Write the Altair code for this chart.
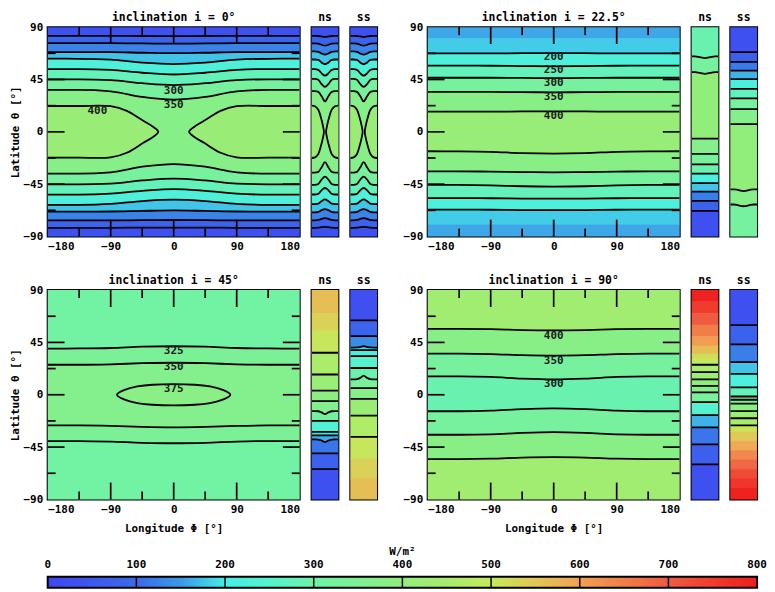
import altair as alt
import pandas as pd

FONT = "DejaVu Sans Mono"

# ---------------- colour scale (W/m^2) ----------------
cb_stops = [0, 100, 150, 200, 250, 300, 400, 450, 500, 550, 600, 700, 800]
cb_colors = ["#4046f2", "#3a6cea", "#3b9ae8", "#46eee6", "#55f2cc", "#6ef2a8",
             "#90ee7c", "#a8ec6c", "#c4ea5c", "#e2c656", "#f2a052", "#f05a40", "#f01c1c"]
cb_ticks = [0, 100, 200, 300, 400, 500, 600, 700, 800]
cb_lines = [100, 200, 300, 400, 500, 600, 700]

# ---------------- axes ----------------
lon_labels = [-180, -90, 0, 90, 180]
lat_labels = [-90, -45, 0, 45, 90]
lon_major = [-90, 0, 90]
lon_minor = [-135, -45, 45, 135]
lat_major = [-45, 0, 45]
lat_minor = [-67.5, -22.5, 22.5, 67.5]

lon_half = [0, 45, 90, 135, 180]          # sample longitudes (mirrored)
strip_half = [0, 0.25, 0.5, 0.75, 1]      # sample positions across a strip

# ---------------- inclination 0 ----------------
p1_main_lines = [
    [82.3, 82.4, 82.5, 82.5, 82.5], [75.8, 76.0, 76.2, 76.2, 76.2],
    [67.6, 68.0, 68.5, 68.6, 68.6], [58.3, 59.5, 62.0, 62.8, 62.9],
    [49.3, 50.8, 53.2, 54.0, 54.0], [40.2, 41.8, 44.5, 45.1, 45.1],
    [27.7, 30.0, 34.8, 36.0, 36.0],
    [-27.7, -30.0, -34.8, -36.0, -36.0], [-40.2, -41.8, -44.5, -45.1, -45.1],
    [-49.3, -50.8, -53.2, -54.0, -54.0], [-58.3, -59.5, -62.0, -62.8, -62.9],
    [-67.6, -68.0, -68.5, -68.6, -68.6], [-75.8, -76.0, -76.2, -76.2, -76.2],
    [-82.3, -82.4, -82.5, -82.5, -82.5]]
p1_main_vals = [25, 75, 125, 175, 225, 275, 325, 372, 325, 275, 225, 175, 125, 75, 25]
p1_lobe_lon = [-180, -135, -90, -67, -44, -29, -22]
p1_lobe_lat = [22.2, 22.2, 22.0, 18.0, 9.7, 4.2, 0.0]
p1_lobe_val = 418
p1_labels = ["300", "350", "400"]
p1_label_lon = [0, 0, -109]
p1_label_lat = [35.2, 22.7, 18.0]

p1_strip_lines = [
    [81.7, 82.0, 82.4, 82.5, 82.5], [74.2, 74.8, 75.8, 76.1, 76.1],
    [66.4, 67.3, 68.8, 69.2, 69.2], [58.1, 59.5, 61.8, 62.2, 62.2],
    [48.3, 50.2, 53.3, 53.9, 53.9], [38.6, 41.0, 44.8, 45.6, 45.6],
    [26.1, 30.5, 34.4, 35.0, 35.0],
    [-26.1, -30.5, -34.4, -35.0, -35.0], [-38.6, -41.0, -44.8, -45.6, -45.6],
    [-48.3, -50.2, -53.3, -53.9, -53.9], [-58.1, -59.5, -61.8, -62.2, -62.2],
    [-66.4, -67.3, -68.8, -69.2, -69.2], [-74.2, -74.8, -75.8, -76.1, -76.1],
    [-81.7, -82.0, -82.4, -82.5, -82.5]]
p1_strip_vals = [25, 75, 125, 175, 225, 275, 325, 372, 325, 275, 225, 175, 125, 75, 25]
p1_strip_lobe_x = [-1, -0.75, -0.5, -0.3, -0.15, -0.08]
p1_strip_lobe_lat = [22.5, 22.0, 19.0, 12.0, 5.0, 0.0]

# ---------------- inclination 22.5 ----------------
p2_main_lines = [
    80, [67.7, 67.6, 67.4, 67.4, 67.4], [56.3, 56.5, 56.8, 56.9, 56.9],
    [46.2, 46.3, 46.5, 46.5, 46.5], [34.0, 34.1, 34.3, 34.3, 34.3],
    [17.6, 17.5, 17.3, 17.3, 17.3], [-18.7, -18.3, -17.2, -16.8, -16.7],
    [-34.8, -34.6, -34.2, -34.0, -34.0], [-47.1, -46.8, -46.0, -45.7, -45.7],
    [-57.5, -57.4, -57.1, -57.0, -57.0], [-67.4, -67.3, -67.0, -66.9, -66.9], -80]
p2_main_hidden = [0, 11]
p2_main_vals = [158, 180, 225, 275, 325, 375, 415, 375, 325, 275, 225, 180, 158]
p2_labels = ["200", "250", "300", "350", "400"]
p2_label_lon = [0, 0, 0, 0, 0]
p2_label_lat = [64.1, 52.9, 41.8, 30.1, 14.0]

p2_ns_lines = [[63.4, 63.8, 64.5, 64.8, 64.8], [49.9, 50.3, 51.0, 51.3, 51.3],
               -5.8, -19.0, -27.9, -35.9, -44.2, -51.4, -59.4, -67.9]
p2_ns_vals = [290, 325, 405, 365, 330, 290, 220, 175, 120, 75, 30]
p2_ss_lines = [68.5, 60.2, 52.7, 45.3, 37.0, 28.7, 19.6, 6.6,
               [-51.0, -50.6, -49.8, -49.5, -49.5], [-64.0, -63.6, -62.8, -62.5, -62.5]]
p2_ss_vals = [30, 68, 115, 165, 215, 270, 320, 365, 405, 370, 320]

# ---------------- inclination 45 ----------------
p3_main_lines = [[41.7, 41.3, 40.2, 39.8, 39.7], [27.5, 27.1, 26.2, 25.8, 25.8],
                 [-28.1, -27.7, -26.8, -26.4, -26.4], [-41.7, -41.3, -40.3, -39.8, -39.8]]
p3_main_vals = [312, 338, 362, 338, 312]
p3_oval_lon = [-81, -71, -52, -30, 0, 30, 52, 71, 81]
p3_oval_lat = [0.0, 4.0, 7.1, 8.6, 9.1, 8.6, 7.1, 4.0, 0.0]
p3_oval_val = 382
p3_labels = ["325", "350", "375"]
p3_label_lon = [0, 0, 0]
p3_label_lat = [37.5, 24.1, 4.9]

p3_ns_lines = [70, 55, 36.1, 17.4, 3.5, -5.5, [-16.6, -15.2, -14.2, -14.1, -14.1], -22.5,
               -32.0, -35.0, [-40.6, -39.4, -38.5, -38.4, -38.4], -50.4, -64.0]
p3_ns_hidden = [0, 1]
p3_ns_vals = [560, 535, 505, 455, 420, 388, 360, 318, 235, 192, 160, 110, 70, 30]
p3_ss_lines = [64.0, 50.4, [41.8, 41.2, 40.7, 40.6, 40.6], 38.4, 33.3, 23.0,
               [16.5, 14.5, 13.4, 13.2, 13.2], 5.7, -3.5, -18.0, -36.2, -55, -72]
p3_ss_hidden = [11, 12]
p3_ss_vals = [30, 75, 135, 185, 215, 250, 290, 330, 372, 418, 462, 505, 535, 560]

# ---------------- inclination 90 ----------------
p4_main_lines = [[55.3, 55.6, 56.4, 56.7, 56.7], [33.6, 34.0, 35.0, 35.3, 35.3],
                 [13.1, 13.8, 15.3, 15.8, 15.8], [-11.7, -12.3, -13.7, -14.2, -14.2],
                 [-32.2, -32.8, -34.0, -34.4, -34.4], [-53.6, -54.0, -55.0, -55.3, -55.3]]
p4_main_vals = [435, 375, 325, 290, 325, 375, 435]
p4_labels = ["400", "350", "300"]
p4_label_lon = [0, 0, 0]
p4_label_lat = [50.6, 28.9, 8.9]

p4_ns_lines = [80, 70, 60, 50, 42, 35, 30, 25.8, 19.4, 13.2, 7.7, 2.1, -6.3, -17.5,
               -28.1, -42.6, -59.9]
p4_ns_hidden = [0, 1, 2, 3, 4, 5, 6]
p4_ns_vals = [790, 750, 700, 650, 605, 560, 520, 495, 455, 425, 400, 375, 330, 245,
              165, 110, 65, 30]
p4_ss_lines = [59.9, 43.4, 28.0, 18.0, 6.3, -1.5, -4.3, -7.7, -14.1, -20.2, -26.4,
               -32, -40, -48, -56, -64, -72, -80]
p4_ss_hidden = [11, 12, 13, 14, 15, 16, 17]
p4_ss_vals = [30, 70, 120, 175, 220, 275, 320, 355, 385, 420, 450, 510, 545, 590,
              635, 680, 725, 760, 790]

# ---------------- layout ----------------
H = 211
W_MAIN = 254
W_STRIP = 27
GAP = 12
W_SPACER = 27
W_CBAR = 715
CB_TOP = 24
CB_H = 11
TICK_MAJOR = 17
TICK_MINOR = 8
LINE_W = 1.8

cscale = alt.Scale(domain=cb_stops, range=cb_colors, clamp=True, interpolate="rgb")


def mirror(half):
    if not isinstance(half, list):
        return [half] * 9
    return half[::-1] + half[1:]


def full_x(half):
    return [-h for h in half[::-1]] + half[1:]


def subplot(kind, lines, vals, hidden=(), blobs=(), oval=None, labels=None,
            title="", ytitle=False, xtitle=False):
    main = kind == "main"
    xs = full_x(lon_half) if main else full_x(strip_half)
    xdom = [-180, 180] if main else [-1, 1]
    W = W_MAIN if main else W_STRIP
    xsc = alt.Scale(domain=xdom, nice=False, zero=False)
    ysc = alt.Scale(domain=[-90, 90], nice=False, zero=False)

    bounds = [[90] * 9] + [mirror(l) for l in lines] + [[-90] * 9]
    band_rows = []
    for k, v in enumerate(vals):
        for j, x in enumerate(xs):
            band_rows.append(dict(band=k, x=x, top=bounds[k][j], bot=bounds[k + 1][j], v=v))
    line_rows = []
    for i, l in enumerate(lines):
        if i in hidden:
            continue
        ml = mirror(l)
        for j, x in enumerate(xs):
            line_rows.append(dict(line=i, x=x, lat=ml[j]))

    if main:
        xax = alt.Axis(values=lon_labels, labelPadding=4, tickSize=0,
                       title=("Longitude \u03a6 [\u00b0]" if xtitle else None), titlePadding=8)
        yax = alt.Axis(values=lat_labels, labelPadding=5, tickSize=0,
                       title=("Latitude \u03b8 [\u00b0]" if ytitle else None), titlePadding=3)
    else:
        xax = None
        yax = None

    def X(f):
        return alt.X(f, scale=xsc, axis=xax)

    def Y(f):
        return alt.Y(f, scale=ysc, axis=yax)

    layers = [
        alt.Chart(pd.DataFrame(band_rows)).mark_area(
            interpolate="monotone", orient="vertical", clip=True, strokeWidth=0.7
        ).encode(
            x=X("x:Q"), y=Y("top:Q"), y2="bot:Q",
            color=alt.Color("v:Q", scale=cscale, legend=None),
            stroke=alt.Stroke("v:Q", scale=cscale, legend=None),
            detail="band:N",
        )
    ]

    fill_rows, out_rows = [], []
    for b, (bx, blat, bv) in enumerate(blobs):
        for side in (-1, 1):
            bid = f"{b}{side}"
            px = [side * -x for x in bx]
            for x, la in zip(px, blat):
                fill_rows.append(dict(blob=bid, x=x, top=la, bot=-la, v=bv))
            seq = list(zip(px, blat)) + [(x, -la) for x, la in list(zip(px, blat))[::-1][1:]]
            for o, (x, la) in enumerate(seq):
                out_rows.append(dict(blob=bid, o=o, x=x, lat=la))
    oval_rows = []
    if oval is not None:
        ox, olat, ov = oval
        for x, la in zip(ox, olat):
            fill_rows.append(dict(blob="oval", x=x, top=la, bot=-la, v=ov))
        seq = list(zip(ox, olat)) + [(x, -la) for x, la in list(zip(ox, olat))[::-1][1:-1]]
        for o, (x, la) in enumerate(seq):
            oval_rows.append(dict(blob="oval", o=o, x=x, lat=la))

    if fill_rows:
        layers.append(
            alt.Chart(pd.DataFrame(fill_rows)).mark_area(
                interpolate="monotone", orient="vertical", clip=True, strokeWidth=0.7
            ).encode(
                x=X("x:Q"), y=Y("top:Q"), y2="bot:Q",
                color=alt.Color("v:Q", scale=cscale, legend=None),
                stroke=alt.Stroke("v:Q", scale=cscale, legend=None),
                detail="blob:N",
            )
        )

    layers.append(
        alt.Chart(pd.DataFrame(line_rows)).mark_line(
            interpolate="monotone", color="black", strokeWidth=LINE_W, clip=True
        ).encode(x=X("x:Q"), y=Y("lat:Q"), detail="line:N")
    )
    if out_rows:
        layers.append(
            alt.Chart(pd.DataFrame(out_rows)).mark_line(
                interpolate="catmull-rom", color="black", strokeWidth=LINE_W, clip=True
            ).encode(x=X("x:Q"), y=Y("lat:Q"), order="o:Q", detail="blob:N")
        )
    if oval_rows:
        layers.append(
            alt.Chart(pd.DataFrame(oval_rows)).mark_line(
                interpolate="cardinal-closed", color="black", strokeWidth=LINE_W, clip=True
            ).encode(x=X("x:Q"), y=Y("lat:Q"), order="o:Q", detail="blob:N")
        )

    if main:
        for vals_, ln in ((lon_major, TICK_MAJOR), (lon_minor, TICK_MINOR)):
            d = pd.DataFrame({"x": vals_})
            for y0, y1 in ((0, ln), (H, H - ln)):
                layers.append(
                    alt.Chart(d).mark_rule(color="black", strokeWidth=1.7).encode(
                        x=X("x:Q"), y=alt.value(y0), y2=alt.value(y1),
                    )
                )
        for vals_, ln in ((lat_major, TICK_MAJOR), (lat_minor, TICK_MINOR)):
            d = pd.DataFrame({"lat": vals_})
            for x0, x1 in ((0, ln), (W, W - ln)):
                layers.append(
                    alt.Chart(d).mark_rule(color="black", strokeWidth=1.7).encode(
                        y=Y("lat:Q"), x=alt.value(x0), x2=alt.value(x1),
                    )
                )
    if labels is not None:
        txt, lx, ly = labels
        layers.append(
            alt.Chart(pd.DataFrame({"txt": txt, "x": lx, "lat": ly})).mark_text(
                font=FONT, fontSize=11, fontWeight="bold", color="#1a1a1a",
                align="center", baseline="middle"
            ).encode(x=X("x:Q"), y=Y("lat:Q"), text="txt:N")
        )

    return alt.layer(*layers).properties(
        width=W, height=H,
        title=alt.TitleParams(text=title, font=FONT, fontSize=11.5, fontWeight="bold",
                              color="black", offset=(-2 if main else 4), anchor="middle",
                              frame="group"),
    )


def spacer():
    return alt.Chart(pd.DataFrame({"a": [0]})).mark_point(opacity=0).encode(
        x=alt.value(0), y=alt.value(0)
    ).properties(width=W_SPACER, height=H, view=alt.ViewBackground(strokeOpacity=0))


m1 = subplot("main", p1_main_lines, p1_main_vals,
             blobs=[(p1_lobe_lon, p1_lobe_lat, p1_lobe_val)],
             labels=(p1_labels, p1_label_lon, p1_label_lat),
             title="inclination i = 0\u00b0", ytitle=True)
n1 = subplot("strip", p1_strip_lines, p1_strip_vals,
             blobs=[(p1_strip_lobe_x, p1_strip_lobe_lat, p1_lobe_val)], title="ns")
s1 = subplot("strip", p1_strip_lines, p1_strip_vals,
             blobs=[(p1_strip_lobe_x, p1_strip_lobe_lat, p1_lobe_val)], title="ss")

m2 = subplot("main", p2_main_lines, p2_main_vals, hidden=p2_main_hidden,
             labels=(p2_labels, p2_label_lon, p2_label_lat),
             title="inclination i = 22.5\u00b0")
n2 = subplot("strip", p2_ns_lines, p2_ns_vals, title="ns")
s2 = subplot("strip", p2_ss_lines, p2_ss_vals, title="ss")

m3 = subplot("main", p3_main_lines, p3_main_vals,
             oval=(p3_oval_lon, p3_oval_lat, p3_oval_val),
             labels=(p3_labels, p3_label_lon, p3_label_lat),
             title="inclination i = 45\u00b0", ytitle=True, xtitle=True)
n3 = subplot("strip", p3_ns_lines, p3_ns_vals, hidden=p3_ns_hidden, title="ns")
s3 = subplot("strip", p3_ss_lines, p3_ss_vals, hidden=p3_ss_hidden, title="ss")

m4 = subplot("main", p4_main_lines, p4_main_vals,
             labels=(p4_labels, p4_label_lon, p4_label_lat),
             title="inclination i = 90\u00b0", xtitle=True)
n4 = subplot("strip", p4_ns_lines, p4_ns_vals, hidden=p4_ns_hidden, title="ns")
s4 = subplot("strip", p4_ss_lines, p4_ss_vals, hidden=p4_ss_hidden, title="ss")

# ---------------- colour bar (drawn wider than its layout cell) ----------------
cb_x = alt.Scale(domain=[0, 800], range=[0, W_CBAR], nice=False, zero=False)
cbar_ramp = alt.Chart(alt.sequence(0, 800, 2, as_="v")).transform_calculate(
    v2="min(datum.v + 3, 800)"
).mark_rect(clip=False).encode(
    x=alt.X("v:Q", scale=cb_x, axis=None),
    x2="v2:Q",
    y=alt.value(CB_TOP), y2=alt.value(CB_TOP + CB_H),
    color=alt.Color("v:Q", scale=cscale, legend=None),
)
cbar_sep = alt.Chart(pd.DataFrame({"v": cb_lines})).mark_rule(
    color="black", strokeWidth=1.5
).encode(x=alt.X("v:Q", scale=cb_x, axis=None),
         y=alt.value(CB_TOP), y2=alt.value(CB_TOP + CB_H))
cbar_border = alt.Chart(pd.DataFrame({"a": [0]})).mark_rect(
    filled=False, stroke="black", strokeWidth=2
).encode(x=alt.value(0), x2=alt.value(W_CBAR),
         y=alt.value(CB_TOP), y2=alt.value(CB_TOP + CB_H))
cbar_labels = alt.Chart(pd.DataFrame({"v": cb_ticks})).mark_text(
    font=FONT, fontSize=11, fontWeight="bold", color="black", baseline="middle"
).encode(x=alt.X("v:Q", scale=cb_x, axis=None), y=alt.value(CB_TOP - 12), text="v:Q")
cbar_title = alt.Chart(pd.DataFrame({"t": ["W/m\u00b2"]})).mark_text(
    font=FONT, fontSize=11, fontWeight="bold", color="black", baseline="middle"
).encode(x=alt.value(W_CBAR / 2), y=alt.value(CB_TOP - 25), text="t:N")
cbar = alt.layer(cbar_ramp, cbar_sep, cbar_border, cbar_labels, cbar_title).properties(
    width=W_MAIN, height=CB_TOP + CB_H, view=alt.ViewBackground(strokeOpacity=0)
)

chart = alt.concat(
    m1, n1, s1, spacer(), m2, n2, s2,
    m3, n3, s3, spacer(), m4, n4, s4,
    cbar,
    columns=7, spacing={"row": 54, "column": GAP}, bounds="flush", align="each",
).properties(
    padding=0
).configure_view(
    stroke="black", strokeWidth=2
).configure_axis(
    grid=False, domain=False, ticks=False,
    labelFont=FONT, labelFontSize=11, labelFontWeight="bold", labelColor="black",
    titleFont=FONT, titleFontSize=11, titleFontWeight="bold", titleColor="black",
).configure_title(font=FONT, fontWeight="bold", color="black")

chart.save("out.html", embed_options={"renderer": "svg", "actions": False})
